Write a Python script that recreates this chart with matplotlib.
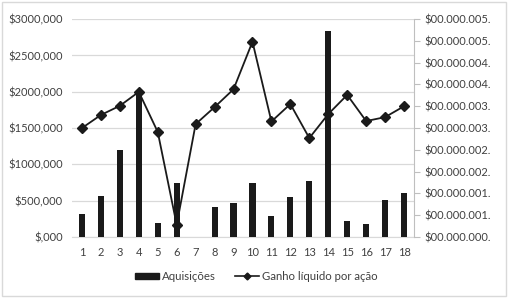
import numpy as np
import matplotlib.pyplot as plt
from matplotlib.patches import Rectangle
from matplotlib.lines import Line2D

# dados
categorias = list(range(1, 19))
aquisicoes = [312000, 564000, 1197000, 1995000, 197000, 747000, 0, 408000, 463000,
              743000, 289000, 550000, 770000, 2839000, 225000, 179000, 505000, 605000]
ganho_acao = [0.00250, 0.00280, 0.00301, 0.00333, 0.00241, 0.00028, 0.00259, 0.00298, 0.00339,
              0.00448, 0.00265, 0.00305, 0.00227, 0.00282, 0.00326, 0.00266, 0.00275, 0.00300]

ticks_esq = [0, 500000, 1000000, 1500000, 2000000, 2500000, 3000000]
rotulos_esq = ['$,000', '$500,000', '$1000,000', '$1500,000', '$2000,000', '$2500,000', '$3000,000']
ticks_dir = [0, 0.0005, 0.001, 0.0015, 0.002, 0.0025, 0.003, 0.0035, 0.004, 0.0045, 0.005]
rotulos_dir = ['$00.000.000.', '$00.000.001.', '$00.000.001.', '$00.000.002.', '$00.000.002.',
               '$00.000.003.', '$00.000.003.', '$00.000.004.', '$00.000.004.', '$00.000.005.',
               '$00.000.005.']

plt.rcParams['font.family'] = ['Lato', 'DejaVu Sans']
cor_texto = '#404040'

fig = plt.figure(figsize=(5.08, 2.98), dpi=100)
ax = fig.add_axes([0.1427, 0.2047, 0.8140 - 0.1427, 0.936 - 0.2047])
ax2 = ax.twinx()

x = np.array(categorias)
ax.bar(x, aquisicoes, width=0.32, color='#1a1a1a', zorder=3)
ax.set_xlim(0.5, 18.5)
ax.set_ylim(0, 3000000)
ax.set_yticks(ticks_esq)
ax.set_yticklabels(rotulos_esq)
ax.set_xticks(x)
ax.set_xticklabels([str(c) for c in categorias])
ax.grid(axis='y', color='#d9d9d9', linewidth=0.9, zorder=0)
ax.set_axisbelow(True)
for s in ['top', 'right', 'left']:
    ax.spines[s].set_visible(False)
ax.spines['bottom'].set_color('#d9d9d9')
ax.tick_params(axis='both', length=0, labelsize=8, colors=cor_texto, pad=7)

ax2.plot(x, ganho_acao, color='#1a1a1a', linewidth=1.3, marker='D', markersize=5, zorder=4)
ax2.set_ylim(0, 0.005)
ax2.set_yticks(ticks_dir)
ax2.set_yticklabels(rotulos_dir)
for s in ['top', 'left', 'bottom']:
    ax2.spines[s].set_visible(False)
ax2.spines['right'].set_color('#bfbfbf')
ax2.tick_params(axis='y', length=4, labelsize=8, pad=4, colors='#bfbfbf', labelcolor=cor_texto)

handles = [Rectangle((0, 0), 1, 1, color='#1a1a1a'),
           Line2D([], [], color='#1a1a1a', linewidth=1.2, marker='D', markersize=3.5)]
fig.legend(handles, ['Aquisições', 'Ganho líquido por ação'], loc='center',
           bbox_to_anchor=(0.504, 0.072), ncol=2, frameon=False, fontsize=8.2,
           handlelength=2.1, handleheight=0.45, handletextpad=0.25, columnspacing=1.7,
           labelcolor=cor_texto)

fig.patches.append(Rectangle((0.004, 0.006), 0.992, 0.988, transform=fig.transFigure,
                             fill=False, edgecolor='#d9d9d9', linewidth=1.0))

fig.savefig('out.png', dpi=100, facecolor='white')
